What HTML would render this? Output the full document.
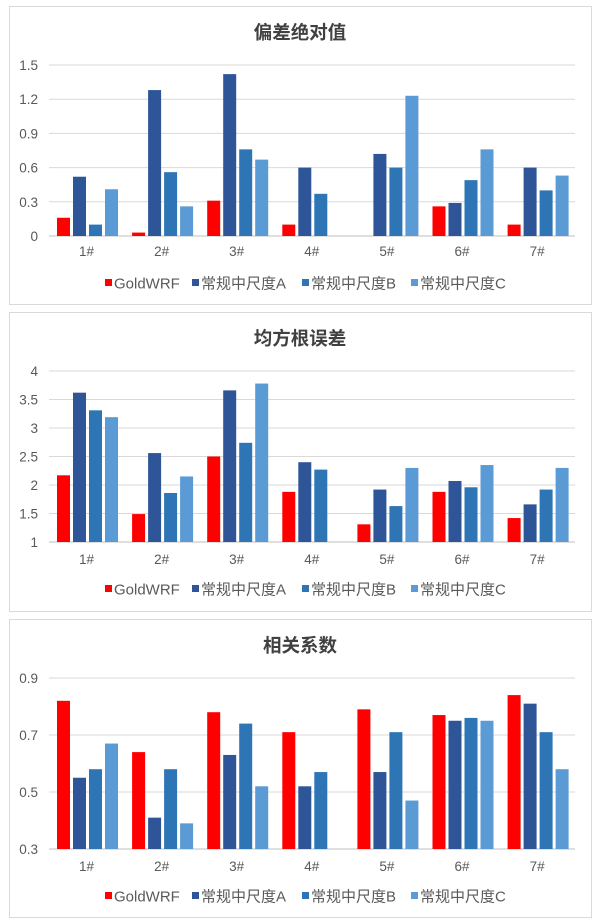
<!DOCTYPE html>
<html><head><meta charset="utf-8"><style>
body{margin:0;background:#fff;}
svg{display:block;font-family:"Liberation Sans","Noto Sans CJK SC",sans-serif;}
</style></head><body>
<svg id="s" width="600" height="922" xmlns="http://www.w3.org/2000/svg"></svg>
<script>
const cols=["#ff0000","#2e5597","#2e75b6","#5b9bd5"];
const panels=[
 {top:6,bot:304,title:"偏差绝对值",ty:32,y0:236,y1:65,min:0,max:1.5,ticks:["0","0.3","0.6","0.9","1.2","1.5"],
  d:[[.16,.52,.10,.41],[.03,1.28,.56,.26],[.31,1.42,.76,.67],[.10,.60,.37,null],[null,.72,.60,1.23],[.26,.29,.49,.76],[.10,.60,.40,.53]],ly:251,gy:283},
 {top:312,bot:611,title:"均方根误差",ty:338,y0:542,y1:371,min:1,max:4,ticks:["1","1.5","2","2.5","3","3.5","4"],
  d:[[2.17,3.62,3.31,3.19],[1.49,2.56,1.86,2.15],[2.5,3.66,2.74,3.78],[1.88,2.40,2.27,null],[1.31,1.92,1.63,2.30],[1.88,2.07,1.96,2.35],[1.42,1.66,1.92,2.30]],ly:559,gy:589},
 {top:619,bot:917,title:"相关系数",ty:645,y0:849,y1:678,min:.3,max:.9,ticks:["0.3","0.5","0.7","0.9"],
  d:[[.82,.55,.58,.67],[.64,.41,.58,.39],[.78,.63,.74,.52],[.71,.52,.57,null],[.79,.57,.71,.47],[.77,.75,.76,.75],[.84,.81,.71,.58]],ly:866,gy:896}
];
const names=["GoldWRF","常规中尺度A","常规中尺度B","常规中尺度C"];
const lx=[105,192,302,411];
let h='';
for(const p of panels){
 h+=`<rect x="9.5" y="${p.top+.5}" width="582" height="${p.bot-p.top}" fill="#fff" stroke="#d9d9d9"/>`;
 h+=`<text x="300" y="${p.ty+7}" font-size="18.5" font-weight="bold" fill="#404040" text-anchor="middle">${p.title}</text>`;
 const n=p.ticks.length;
 for(let i=0;i<n;i++){const y=p.y0+(p.y1-p.y0)*i/(n-1);
  h+=`<line x1="49" x2="575" y1="${y}" y2="${y}" stroke="${i==0?'#bfbfbf':'#d9d9d9'}"/>`;
  h+=`<text x="38" y="${y+5}" font-size="13.5" fill="#595959" text-anchor="end">${p.ticks[i]}</text>`;}
 p.d.forEach((g,i)=>{const gx=49+75.1*i;
  g.forEach((v,k)=>{if(v==null)return;const y=p.y0-(v-p.min)/(p.max-p.min)*(p.y0-p.y1);
   h+=`<rect x="${gx+8+16*k}" y="${y}" width="13" height="${p.y0-y}" fill="${cols[k]}"/>`;});
  h+=`<text x="${gx+37.5}" y="${p.ly+5}" font-size="13.5" fill="#595959" text-anchor="middle">${i+1}#</text>`;});
 names.forEach((nm,k)=>{h+=`<rect x="${lx[k]}" y="${p.gy-4}" width="7" height="7" fill="${cols[k]}"/><text x="${lx[k]+9}" y="${p.gy+5.5}" font-size="15" fill="#595959">${nm}</text>`;});
}
document.getElementById('s').innerHTML=h;
</script>
</body></html>
